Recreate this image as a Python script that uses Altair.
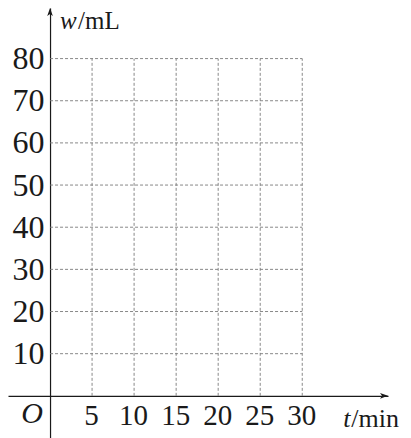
import altair as alt
import pandas as pd

# ---- chart content ----
t_ticks = [5, 10, 15, 20, 25, 30]
w_ticks = [10, 20, 30, 40, 50, 60, 70, 80]
t_grid_max = 30
w_grid_max = 80
x_title = ["t", "/min"]
y_title = ["w", "/mL"]
origin_label = "O"

# ---- layout constants ----
X_DOMAIN = [-5, 40.2]
Y_DOMAIN = [-10, 92]
W, H = 380, 430
FONT = "Liberation Serif"
INK = "#1a1a1a"

xs = alt.Scale(domain=X_DOMAIN, nice=False, zero=False)
ys = alt.Scale(domain=Y_DOMAIN, nice=False, zero=False)

# offsets to place the axes on t=0 and w=0
y_axis_offset = -(0 - X_DOMAIN[0]) / (X_DOMAIN[1] - X_DOMAIN[0]) * W
x_axis_offset = -(0 - Y_DOMAIN[0]) / (Y_DOMAIN[1] - Y_DOMAIN[0]) * H

x_axis = alt.Axis(values=t_ticks, title=None, grid=False, ticks=False,
                  domain=True, domainColor=INK, domainWidth=1.2,
                  offset=x_axis_offset, labelFont=FONT, labelFontSize=29,
                  labelColor=INK, labelPadding=6, labelFlush=False,
                  labelOffset=-1)
y_axis = alt.Axis(values=w_ticks, title=None, grid=False, ticks=False,
                  domain=True, domainColor=INK, domainWidth=1.2,
                  offset=y_axis_offset, labelFont=FONT, labelFontSize=32,
                  labelColor=INK, labelPadding=6, labelFlush=False)


def X(field=None, datum=None):
    if field is not None:
        return alt.X(field, type="quantitative", scale=xs, axis=x_axis)
    return alt.X(datum=datum, type="quantitative", scale=xs, axis=x_axis)


def Y(field=None, datum=None):
    if field is not None:
        return alt.Y(field, type="quantitative", scale=ys, axis=y_axis)
    return alt.Y(datum=datum, type="quantitative", scale=ys, axis=y_axis)


vgrid = pd.DataFrame({"t": t_ticks, "w0": [0] * len(t_ticks),
                      "w1": [w_grid_max] * len(t_ticks)})
hgrid = pd.DataFrame({"w": w_ticks, "t0": [0] * len(w_ticks),
                      "t1": [t_grid_max] * len(w_ticks)})
one = pd.DataFrame({"k": [0]})

grid_style = dict(color="#7a7a7a", strokeWidth=0.9, strokeDash=[3, 2])

v_layer = alt.Chart(vgrid).mark_rule(**grid_style).encode(
    x=X("t"), y=Y("w0"), y2="w1")
h_layer = alt.Chart(hgrid).mark_rule(**grid_style).encode(
    y=Y("w"), x=X("t0"), x2="t1")

up_arrow = "M0,0 L-0.35,1 L0,0.75 L0.35,1 Z"
right_arrow = "M0,0 L-1,-0.35 L-0.75,0 L-1,0.35 Z"

arrow_up = alt.Chart(one).mark_point(
    shape=up_arrow, filled=True, color=INK, size=256, opacity=1
).encode(x=X(datum=0), y=Y(datum=Y_DOMAIN[1]))
arrow_right = alt.Chart(one).mark_point(
    shape=right_arrow, filled=True, color=INK, size=256, opacity=1
).encode(x=X(datum=X_DOMAIN[1]), y=Y(datum=0))

txt = dict(font=FONT, color=INK, baseline="alphabetic", align="left")

yt1 = alt.Chart(one).mark_text(text=y_title[0], fontSize=25, fontStyle="italic",
                               dx=10, dy=21, **txt).encode(
    x=X(datum=0), y=Y(datum=Y_DOMAIN[1]))
yt2 = alt.Chart(one).mark_text(text=y_title[1], fontSize=25,
                               dx=28, dy=21, **txt).encode(
    x=X(datum=0), y=Y(datum=Y_DOMAIN[1]))

xt1 = alt.Chart(one).mark_text(text=x_title[0], fontSize=26, fontStyle="italic",
                               dx=41, dy=31, **txt).encode(
    x=X(datum=t_grid_max), y=Y(datum=0))
xt2 = alt.Chart(one).mark_text(text=x_title[1], fontSize=26,
                               dx=49, dy=31, **txt).encode(
    x=X(datum=t_grid_max), y=Y(datum=0))

origin = alt.Chart(one).mark_text(
    text=origin_label, fontSize=30, fontStyle="italic", font=FONT, color=INK,
    baseline="alphabetic", align="right", dx=-7, dy=27
).encode(x=X(datum=0), y=Y(datum=0))

chart = alt.layer(
    v_layer, h_layer, arrow_up, arrow_right, yt1, yt2, xt1, xt2, origin
).properties(
    width=W, height=H,
    padding={"left": 0, "top": 0, "right": 14, "bottom": 0},
    autosize="none", background="white"
).configure_view(stroke=None)

chart.save("out.html", embed_options={"renderer": "svg", "actions": False})
